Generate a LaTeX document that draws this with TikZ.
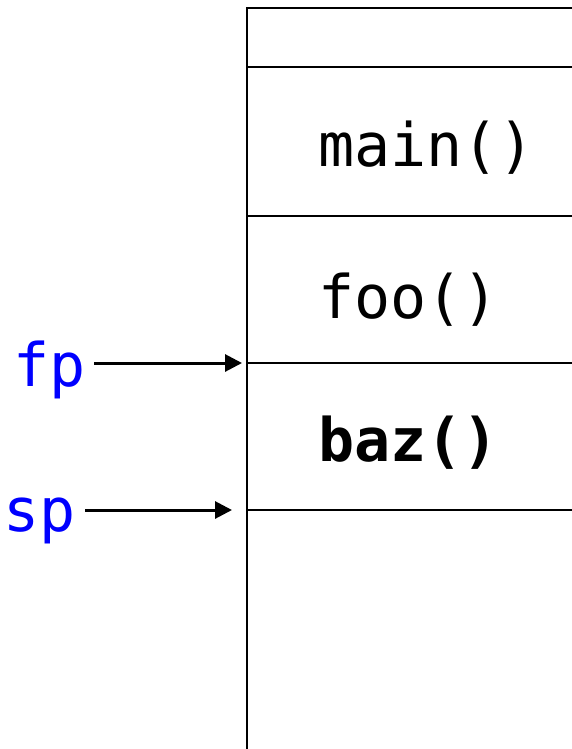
\documentclass[tikz,border=0pt]{standalone}
\usepackage{fontspec}
\setmonofont{DejaVu Sans Mono}
\usetikzlibrary{arrows.meta}
\begin{document}
\begin{tikzpicture}[x=1pt,y=-1pt,
  stackline/.style={line width=1.2pt,black},
  frame/.style={font=\ttfamily\fontsize{60}{60}\selectfont,anchor=base west,inner sep=0pt,outer sep=0pt},
  ptr/.style={font=\ttfamily\fontsize{60}{60}\selectfont,text=blue,anchor=base east,inner sep=0pt,outer sep=0pt},
  ptrarrow/.style={line width=3pt,-{Triangle[length=17pt,width=17pt]}}]
\useasboundingbox (0,0) rectangle (572,749);
\coordinate (tl) at (247,8);
\coordinate (tr) at (572,8);
\coordinate (bl) at (247,749);
\draw[stackline] (bl) -- (tl) -- (tr);
\foreach \yy/\nm in {67/a,216/b,363/c,510/d}{
  \coordinate (l\nm) at (247,\yy);
  \coordinate (r\nm) at (572,\yy);
  \draw[stackline] (l\nm) -- (r\nm);
}
\node[frame] (main) at (318,166) {main()};
\node[frame] (foo) at (318,318) {foo()};
\node[frame] (baz) at (318,461) {\bfseries baz()};
\node[ptr] (fp) at (85.5,386) {fp};
\node[ptr] (sp) at (75.5,531) {sp};
\coordinate (fptip) at (242,363);
\coordinate (sptip) at (232,510);
\draw[ptrarrow] ([xshift=8.5pt]fp.east |- fptip) -- (fptip);
\draw[ptrarrow] ([xshift=9.5pt]sp.east |- sptip) -- (sptip);
\end{tikzpicture}
\end{document}
